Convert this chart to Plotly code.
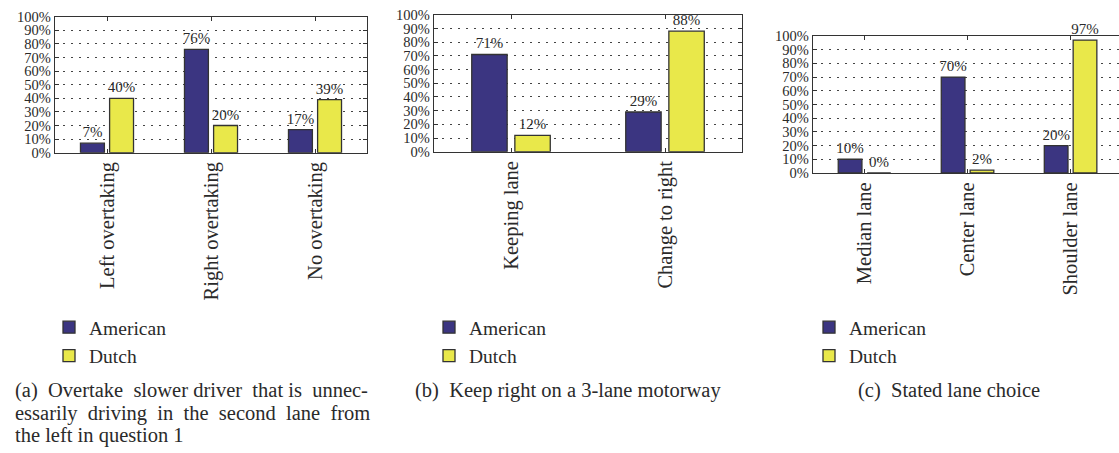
import plotly.graph_objects as go

W, H = 1119, 453

# ---- data ----
cats_a = ["Left overtaking", "Right overtaking", "No overtaking"]
american_a = [7, 76, 17]
dutch_a = [40, 20, 39]

cats_b = ["Keeping lane", "Change to right"]
american_b = [71, 29]
dutch_b = [12, 88]

cats_c = ["Median lane", "Center lane", "Shoulder lane"]
american_c = [10, 70, 20]
dutch_c = [0, 2, 97]

series_names = ["American", "Dutch"]
y_ticks = [0, 10, 20, 30, 40, 50, 60, 70, 80, 90, 100]
y_ticklabels = [f"{v}%" for v in y_ticks]

N2 = "&nbsp;&nbsp;"
N1 = " "
captions_a = ["(a)" + N2 + "Overtake" + N2 + "slower" + N1 + "driver" + N2 + "that" + N1 + "is" + N2 + "unnec-",
              N2.join(["essarily", "driving", "in", "the", "second", "lane", "from"]),
              "the left in question 1"]
caption_b = "(b)&nbsp;&nbsp;Keep right on a 3-lane motorway"
caption_c = "(c)&nbsp;&nbsp;Stated lane choice"

# ---- style ----
FONT = "Liberation Serif, Times New Roman, serif"
NAVY = "#3b3581"
YELLOW = "#e9e84a"
LINE = "#333333"
TXT = "#2a2a2a"

fig = go.Figure()

panels = [
    ("x", "y", "legend", cats_a, american_a, dutch_a),
    ("x2", "y2", "legend2", cats_b, american_b, dutch_b),
    ("x3", "y3", "legend3", cats_c, american_c, dutch_c),
]

for xa, ya, lg, cats, am, du in panels:
    for name, vals, color, off in [(series_names[0], am, NAVY, -0.255),
                                   (series_names[1], du, YELLOW, 0.025)]:
        fig.add_trace(go.Bar(
            x=cats, y=vals, name=name, xaxis=xa, yaxis=ya, legend=lg,
            width=0.23, offset=off,
            marker=dict(color=color, line=dict(color=LINE, width=1.3)),
            text=[f"{v}%" for v in vals], textposition="outside",
            textfont=dict(family=FONT, size=15, color=TXT),
            constraintext="none",
            cliponaxis=False, showlegend=True,
        ))

def px_x(p):
    return p / W

def px_y(p):
    return 1 - p / H

axis_common = dict(showline=True, mirror="allticks", linecolor=LINE, linewidth=1.3,
                   ticks="inside", tickcolor=LINE, ticklen=4, tickwidth=1,
                   tickfont=dict(family=FONT, size=14.5, color=TXT))

domains = [
    ((55, 367), (9, 150), [-0.5, 2.5], "allticks"),
    ((434, 742), (7, 149), [-0.5, 1.5], "allticks"),
    ((813, W), (29, 171), [-0.5, 2.47], False),
]

for i, ((x0, x1), (yt, yb), xr, ymir) in enumerate(domains):
    sfx = "" if i == 0 else str(i + 1)
    fig.update_layout(**{
        f"xaxis{sfx}": dict(axis_common, domain=[px_x(x0), px_x(x1)], range=xr,
                            anchor=f"y{sfx}", tickangle=-90, showgrid=False,
                            tickfont=dict(family=FONT, size=20.5, color=TXT)),
        f"yaxis{sfx}": dict(axis_common, domain=[px_y(yb), px_y(yt)], range=[0, 100],
                            anchor=f"x{sfx}", tickvals=y_ticks, ticktext=y_ticklabels,
                            mirror=ymir,
                            showgrid=True, gridcolor="#444444", gridwidth=1.2,
                            griddash="2px,6px", zeroline=False),
    })

legend_common = dict(orientation="v", xanchor="left", yanchor="top",
                     bgcolor="rgba(0,0,0,0)", font=dict(family=FONT, size=19.5, color=TXT),
                     tracegroupgap=0, itemwidth=30)
fig.update_layout(
    legend=dict(legend_common, x=px_x(49), y=px_y(311)),
    legend2=dict(legend_common, x=px_x(429), y=px_y(311)),
    legend3=dict(legend_common, x=px_x(809), y=px_y(311)),
)

cap_font = dict(family=FONT, size=20.5, color=TXT)
annotations = []
for k, line in enumerate(captions_a):
    annotations.append(dict(text=line, x=px_x(13), y=px_y(383 + k * 23), xref="paper", yref="paper",
                            xanchor="left", yanchor="top", showarrow=False, font=cap_font))
annotations.append(dict(text=caption_b, x=px_x(413), y=px_y(383), xref="paper", yref="paper",
                        xanchor="left", yanchor="top", showarrow=False, font=cap_font))
annotations.append(dict(text=caption_c, x=px_x(949), y=px_y(383), xref="paper", yref="paper",
                        xanchor="center", yanchor="top", showarrow=False, font=cap_font))

fig.update_layout(
    width=W, height=H, margin=dict(l=0, r=0, t=0, b=0),
    paper_bgcolor="white", plot_bgcolor="white",
    barmode="overlay", annotations=annotations,
    font=dict(family=FONT, color=TXT),
)

fig.write_html("out.html", config={"displayModeBar": False},
               post_script="document.body.style.margin='0px';document.body.style.overflow='hidden';")
